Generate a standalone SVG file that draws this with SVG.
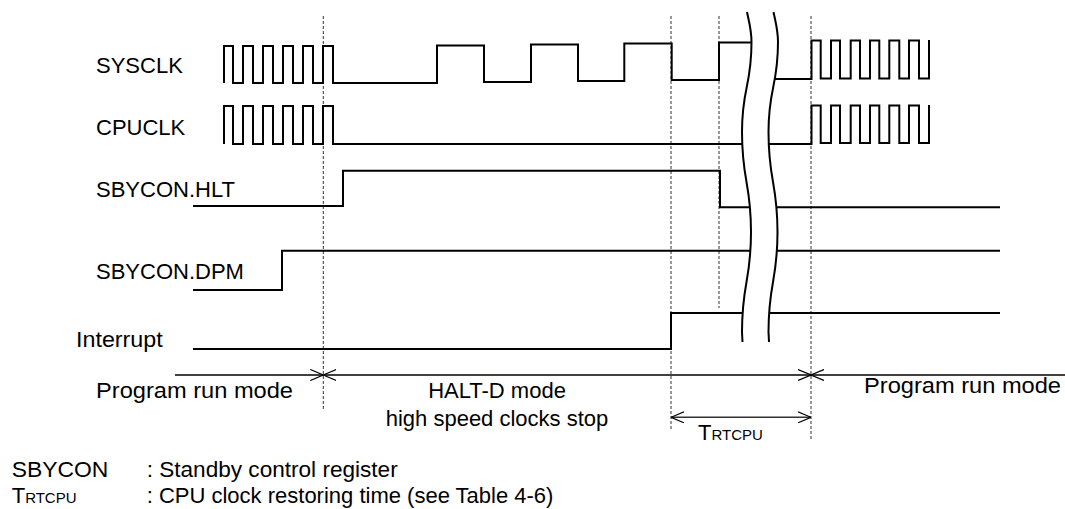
<svg xmlns="http://www.w3.org/2000/svg" width="1065" height="509" viewBox="0 0 1065 509">
<style>
text{font-family:"Liberation Sans",Arial,sans-serif;font-size:22px;fill:#000}
.w{fill:none;stroke:#000;stroke-width:2;stroke-linejoin:miter}
.d{fill:none;stroke:#333;stroke-width:1;stroke-dasharray:3 2}
.a{fill:none;stroke:#000;stroke-width:1.3}
.brk{fill:none;stroke:#000;stroke-width:2}
</style>
<defs>
<marker id="v" viewBox="0 0 13 12" refX="13" refY="6" markerWidth="13" markerHeight="12" markerUnits="userSpaceOnUse" orient="auto-start-reverse">
<path d="M0,0.5 L13,6 L0,11.5" fill="none" stroke="#000" stroke-width="1.2"/>
</marker>
</defs>
<rect width="1065" height="509" fill="#fff"/>
<g id="labels">
<text x="96" y="73">SYSCLK</text>
<text x="96" y="135">CPUCLK</text>
<text x="96" y="197">SBYCON.HLT</text>
<text x="96" y="279">SBYCON.DPM</text>
<text x="76" y="347" textLength="86.7" lengthAdjust="spacingAndGlyphs">Interrupt</text>
</g>
<g id="guides">
<line class="d" x1="323.3" y1="16" x2="323.3" y2="410"/>
<line class="d" x1="671" y1="16" x2="671" y2="430"/>
<line class="d" x1="719" y1="16" x2="719" y2="308"/>
<line class="d" x1="811" y1="16" x2="811" y2="440"/>
</g>
<g id="sysclk">
<path class="w" d="M224,83 V46 H233 V83 H243 V46 H253 V83 H263 V46 H273 V83 H283 V46 H293 V83 H303 V46 H313 V83 H323 V46 H333 V83 H437 V45.5 H484 V82 H531 V44.5 H578 V81 H624.3 V43.5 H671.7 V80 H719 V42.5 H762"/>
<path class="w" d="M762,79 H811.5 V40.5 H820.7 V78.5 H831 V40.5 H840 V78.5 H850.7 V40.5 H860 V78.5 H870 V40.5 H879.3 V78.5 H889.3 V40.5 H899.3 V78.5 H909 V40.5 H919 V78.5 H929 V40"/>
</g>
<g id="cpuclk">
<path class="w" d="M224,144 V106 H233 V144 H243 V106 H253 V144 H263 V106 H273 V144 H283 V106 H293 V144 H303 V106 H313 V144 H323 V106 H333 V144 H811.5 V105.5 H820.7 V143 H831 V105.5 H840 V143 H850.7 V105.5 H860 V143 H870 V105.5 H879.3 V143 H889.3 V105.5 H899.3 V143 H909 V105.5 H919 V143 H929 V105"/>
</g>
<g id="hlt">
<path class="w" d="M193,206 H343 V170.7 H720 V207.3 H1000"/>
</g>
<g id="dpm">
<path class="w" d="M193,290 H282 V250.7 H1000"/>
</g>
<g id="interrupt">
<path class="w" d="M193,349 H671 V313 H1000"/>
</g>
<g id="break">
<path fill="#fff" stroke="none" d="M747,12 C749,22 751.5,30 751.5,42 C751.5,87 742,87 742,132 C742,182 751,182 751,232 C751,282 742,282 742,332 L742.5,342 L769,342 L768.5,332 C768.5,282 777.5,282 777.5,232 C777.5,182 768.5,182 768.5,132 C768.5,87 778,87 778,42 C778,30 775.5,22 773.5,12 Z"/>
<path class="brk" d="M747,12 C749,22 751.5,30 751.5,42 C751.5,87 742,87 742,132 C742,182 751,182 751,232 C751,282 742,282 742,332 L742.5,342"/>
<path class="brk" d="M773.5,12 C775.5,22 778,30 778,42 C778,87 768.5,87 768.5,132 C768.5,182 777.5,182 777.5,232 C777.5,282 768.5,282 768.5,332 L769,342"/>
</g>
<g id="connectors">
<line class="a" x1="175" y1="375" x2="323.3" y2="375" marker-end="url(#v)"/>
<line class="a" x1="323.3" y1="375" x2="811" y2="375" marker-start="url(#v)" marker-end="url(#v)"/>
<line class="a" x1="811" y1="375" x2="1065" y2="375" marker-start="url(#v)"/>
<line x1="671" y1="417.3" x2="811" y2="417.3" stroke="#333" stroke-width="1.6" marker-start="url(#v)" marker-end="url(#v)"/>
</g>
<g id="modes">
<text x="96" y="398.3" textLength="197" lengthAdjust="spacingAndGlyphs">Program run mode</text>
<text x="497" y="398" text-anchor="middle">HALT-D mode</text>
<text x="497" y="426" text-anchor="middle">high speed clocks stop</text>
<text x="864" y="393.3" textLength="197" lengthAdjust="spacingAndGlyphs">Program run mode</text>
<text x="698" y="440">T<tspan font-size="15">RTCPU</tspan></text>
</g>
<g id="legend">
<text x="11.7" y="476.7" textLength="96.6" lengthAdjust="spacingAndGlyphs">SBYCON</text>
<text x="146.7" y="476.7" textLength="251" lengthAdjust="spacingAndGlyphs">: Standby control register</text>
<text x="11.7" y="503">T<tspan font-size="15">RTCPU</tspan></text>
<text x="146.7" y="503">: CPU clock restoring time (see Table 4-6)</text>
</g>
</svg>
